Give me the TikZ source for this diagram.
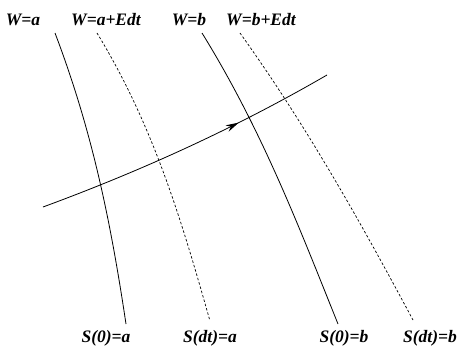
\documentclass[tikz,border=0pt]{standalone}
\usepackage{fontspec}
\setmainfont{Liberation Serif}
\usetikzlibrary{arrows.meta,decorations.markings}

\begin{document}
\begin{tikzpicture}[x=1pt,y=-1pt,line width=0.8pt,
  lab/.style={anchor=base,inner sep=0pt,font=\fontsize{17.5}{20}\selectfont\bfseries\itshape},
  level/.style={line width=0.8pt},
  shifted/.style={line width=0.7pt,dash pattern=on 2.5pt off 2pt}]
\useasboundingbox (0,0) rectangle (458,346);

% labels at the top and at the bottom
\node[lab] (wa)  at (23,25)  {W=a};
\node[lab] (wae) at (106,25) {W=a+Edt};
\node[lab] (wb)  at (189,25) {W=b};
\node[lab] (wbe) at (261,25) {W=b+Edt};
\node[lab] (sa)  at (106,342) {S(0)=a};
\node[lab] (sda) at (210,342) {S(dt)=a};
\node[lab] (sb)  at (344,342) {S(0)=b};
\node[lab] (sdb) at (430,342) {S(dt)=b};

% ends of the lines
\coordinate (ta)  at (55,33);
\coordinate (ba)  at (126,324);
\coordinate (tda) at (97,33);
\coordinate (bda) at (210,321);
\coordinate (tb)  at (202,33);
\coordinate (bb)  at (338,324);
\coordinate (tdb) at (240,33);
\coordinate (bdb) at (413,320);

\draw[level]   (ta)  .. controls +(38,100) and +(-15,-100) .. (ba);
\draw[shifted] (tda) .. controls +(58,95)  and +(-27,-95)  .. (bda);
\draw[level]   (tb)  .. controls +(60,97)  and +(-39,-97)  .. (bb);
\draw[shifted] (tdb) .. controls +(68,95)  and +(-51,-95)  .. (bdb);

% the path crossing them
\coordinate (p0) at (43,207);
\coordinate (p1) at (327,75);
\draw[level,decoration={markings,
  mark=at position 0.68 with {\arrow{Stealth[length=13pt,width=7pt]}}},
  postaction={decorate}]
  (p0) .. controls +(95,-35) and +(-95,55) .. (p1);
\end{tikzpicture}
\end{document}
